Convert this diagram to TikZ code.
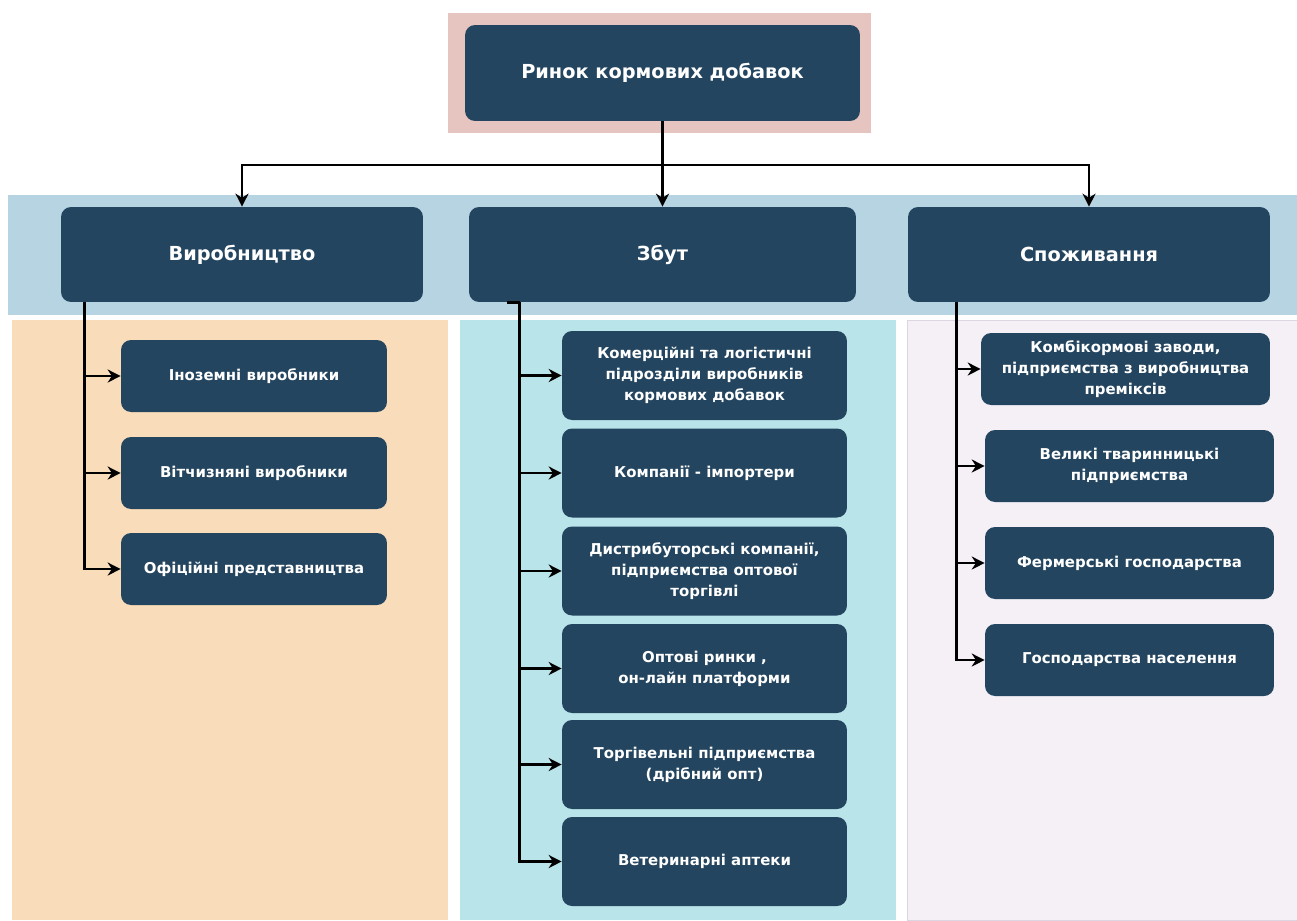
\documentclass[tikz,border=0pt]{standalone}
\usepackage{fontspec}
\setmainfont{DejaVu Sans}
\usetikzlibrary{arrows.meta}

\definecolor{boxblue}{HTML}{24455F}
\definecolor{pinkbg}{HTML}{E6C4C0}
\definecolor{bandbg}{HTML}{B7D4E2}
\definecolor{orangebg}{HTML}{F9DCB9}
\definecolor{cyanbg}{HTML}{B9E4E9}
\definecolor{lilacbg}{HTML}{F4F0F6}
\definecolor{lilacline}{HTML}{DCD6E2}

\begin{document}
\begin{tikzpicture}[x=0.02cm,y=-0.02cm,
    panel/.style={rounded corners=0.2cm,fill=boxblue,text=white,align=center,inner sep=0pt,
                  font=\bfseries\fontsize{8.5}{12}\selectfont},
    headpanel/.style={panel,font=\bfseries\fontsize{11}{13}\selectfont},
    trunk/.style={line width=1.5pt},
    link/.style={trunk,-{Stealth[length=2.6mm,width=2.6mm]}}]
  \useasboundingbox (0,0) rectangle (1297,920);

  % backgrounds
  \fill[pinkbg] (448,13) rectangle (871,133);
  \fill[bandbg] (8,195) rectangle (1297,315);
  \fill[orangebg] (12,320) rectangle (448,920);
  \fill[cyanbg] (460,320) rectangle (896,920);
  \filldraw[fill=lilacbg,draw=lilacline] (907,320) rectangle (1297,920);

  % top levels
  \node[headpanel,minimum width=7.9cm,minimum height=1.92cm] (market) at (662.5,73) {Ринок кормових добавок};
  \node[headpanel,minimum width=7.24cm,minimum height=1.9cm] (vyr) at (242,254.5) {Виробництво};
  \node[headpanel,minimum width=7.74cm,minimum height=1.9cm] (zbut) at (662.5,254.5) {Збут};
  \node[headpanel,minimum width=7.24cm,minimum height=1.9cm] (spozh) at (1089,254.5) {Споживання};
  \coordinate (hub) at (662.5,165);

  \draw[trunk] (market) -- (hub);
  \draw[link] (hub) -| (vyr);
  \draw[link] (hub) -- (zbut);
  \draw[link] (hub) -| (spozh);

  % production
  \node[panel,minimum width=5.32cm,minimum height=1.44cm] (v1) at (254,376) {Іноземні виробники};
  \node[panel,minimum width=5.32cm,minimum height=1.44cm] (v2) at (254,473) {Вітчизняні виробники};
  \node[panel,minimum width=5.32cm,minimum height=1.44cm] (v3) at (254,569) {Офіційні представництва};
  \foreach \n in {v1,v2,v3}
    \draw[link] ([xshift=0.48cm]vyr.south west) |- (\n);

  % sales
  \node[panel,minimum width=5.7cm,minimum height=1.78cm] (z1) at (704.5,375.5) {Комерційні та логістичні\\підрозділи виробників\\кормових добавок};
  \node[panel,minimum width=5.7cm,minimum height=1.78cm] (z2) at (704.5,473) {Компанії - імпортери};
  \node[panel,minimum width=5.7cm,minimum height=1.78cm] (z3) at (704.5,571) {Дистрибуторські компанії,\\підприємства оптової\\торгівлі};
  \node[panel,minimum width=5.7cm,minimum height=1.78cm] (z4) at (704.5,668.5) {Оптові ринки ,\\он-лайн платформи};
  \node[panel,minimum width=5.7cm,minimum height=1.78cm] (z5) at (704.5,764.5) {Торгівельні підприємства\\(дрібний опт)};
  \node[panel,minimum width=5.7cm,minimum height=1.78cm] (z6) at (704.5,861.5) {Ветеринарні аптеки};
  \draw[trunk] ([xshift=0.76cm]zbut.south west) -- ([xshift=1.02cm]zbut.south west);
  \foreach \n in {z1,z2,z3,z4,z5,z6}
    \draw[link] ([xshift=1.02cm]zbut.south west) |- (\n);

  % consumption
  \node[panel,minimum width=5.78cm,minimum height=1.44cm] (s1) at (1125.5,369) {Комбікормові заводи,\\підприємства з виробництва\\преміксів};
  \node[panel,minimum width=5.78cm,minimum height=1.44cm] (s2) at (1129.5,466) {Великі тваринницькі\\підприємства};
  \node[panel,minimum width=5.78cm,minimum height=1.44cm] (s3) at (1129.5,563) {Фермерські господарства};
  \node[panel,minimum width=5.78cm,minimum height=1.44cm] (s4) at (1129.5,660) {Господарства населення};
  \foreach \n in {s1,s2,s3,s4}
    \draw[link] ([xshift=0.98cm]spozh.south west) |- (\n);
\end{tikzpicture}
\end{document}
